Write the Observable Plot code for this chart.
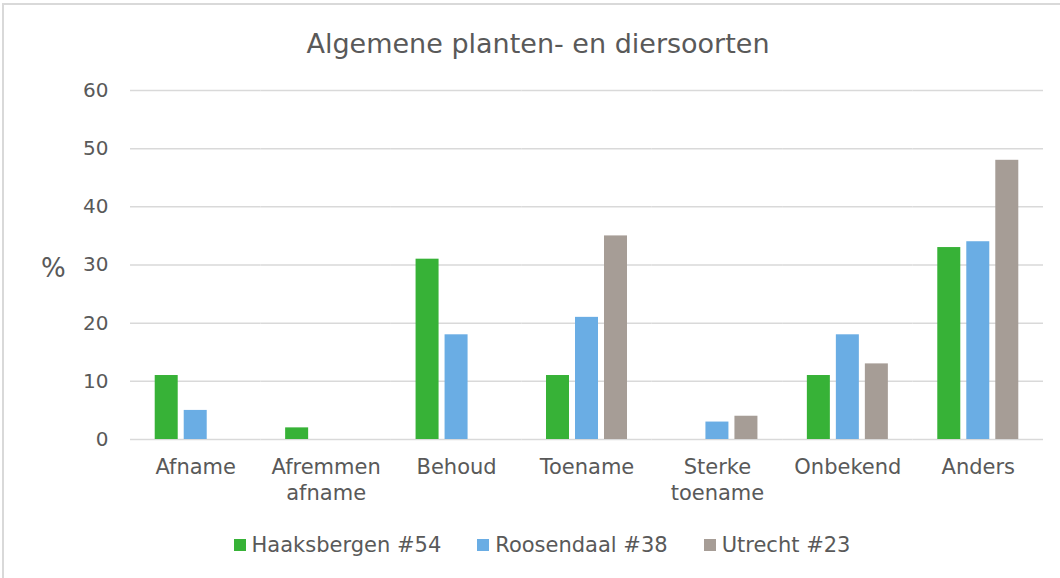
<!DOCTYPE html>
<html>
<head>
<meta charset="utf-8">
<script src="https://cdn.jsdelivr.net/npm/d3@7"></script>
<script src="https://cdn.jsdelivr.net/npm/@observablehq/plot@0.6"></script>
<style>
  html, body { margin: 0; padding: 0; background: #fff; }
  body { width: 1060px; height: 578px; position: relative; overflow: hidden; font-family: "DejaVu Sans", Verdana, sans-serif; color: #595959; }
  #frame { position: absolute; left: 2px; top: 3px; width: 1100px; height: 620px; border-left: 2px solid #d9d9d9; border-top: 2px solid #d9d9d9; }
  #title { position: absolute; left: 0; top: 29px; width: 1076px; text-align: center; font-size: 27px; line-height: 30px; color: #595959; }
  #ylabel { position: absolute; left: 41px; top: 253px; font-size: 26px; line-height: 30px; color: #595959; }
  #chart { position: absolute; left: 0; top: 0; }
  #legend { position: absolute; left: 0; top: 533px; width: 1084px; display: flex; justify-content: center; gap: 36px; font-size: 21px; line-height: 24px; color: #595959; }
  .item { display: flex; align-items: center; }
  .sw { width: 12px; height: 12px; margin-right: 6px; }
</style>
</head>
<body>
<div id="frame"></div>
<div id="chart"></div>
<div id="title"></div>
<div id="ylabel"></div>
<div id="legend"></div>
<script>
const title = "Algemene planten- en diersoorten";
const yLabel = "%";
const categories = ["Afname", "Afremmen afname", "Behoud", "Toename", "Sterke toename", "Onbekend", "Anders"];
const categoryLabels = ["Afname", "Afremmen\nafname", "Behoud", "Toename", "Sterke\ntoename", "Onbekend", "Anders"];
const series = ["Haaksbergen #54", "Roosendaal #38", "Utrecht #23"];
const colors = ["#37b237", "#6aade4", "#a69d96"];
const haaksbergen = [11, 2, 31, 11, 0, 11, 33];
const roosendaal = [5, 0, 18, 21, 3, 18, 34];
const utrecht = [0, 0, 0, 35, 4, 13, 48];
const yTicks = [0, 10, 20, 30, 40, 50, 60];

const seriesValues = [haaksbergen, roosendaal, utrecht];
const data = [];
categories.forEach((c, i) => {
  series.forEach((s, j) => {
    data.push({category: c, series: s, value: seriesValues[j][i]});
  });
});

document.getElementById("title").textContent = title;
document.getElementById("ylabel").textContent = yLabel;

const chart = Plot.plot({
  width: 1060,
  height: 520,
  marginLeft: 130,
  marginRight: 17,
  marginTop: 90,
  marginBottom: 81,
  style: {fontFamily: "DejaVu Sans, Verdana, sans-serif", fontSize: "20px", color: "#595959", background: "transparent"},
  fx: {domain: categories, padding: 0, round: false, label: null},
  x: {domain: series, paddingInner: 0.207, paddingOuter: 0.852, round: false, axis: null},
  y: {domain: [0, 60], label: null},
  color: {domain: series, range: colors},
  marks: [
    Plot.gridY(yTicks, {stroke: "#d9d9d9", strokeOpacity: 1, strokeWidth: 1.5}),
    Plot.barY(data, {fx: "category", x: "series", y: "value", fill: "series"}),
    Plot.axisY(yTicks, {tickSize: 0, tickPadding: 22, label: null, fill: "#595959", fontSize: 20}),
    Plot.axisFx({anchor: "bottom", tickSize: 0, tickPadding: 17, label: null, fill: "#595959", fontSize: 21, lineHeight: 1.2,
      tickFormat: d => categoryLabels[categories.indexOf(d)]})
  ]
});
document.getElementById("chart").appendChild(chart);

const legend = document.getElementById("legend");
series.forEach((s, i) => {
  const item = document.createElement("div");
  item.className = "item";
  const sw = document.createElement("span");
  sw.className = "sw";
  sw.style.background = colors[i];
  const label = document.createElement("span");
  label.textContent = s;
  item.appendChild(sw);
  item.appendChild(label);
  legend.appendChild(item);
});
</script>
</body>
</html>
